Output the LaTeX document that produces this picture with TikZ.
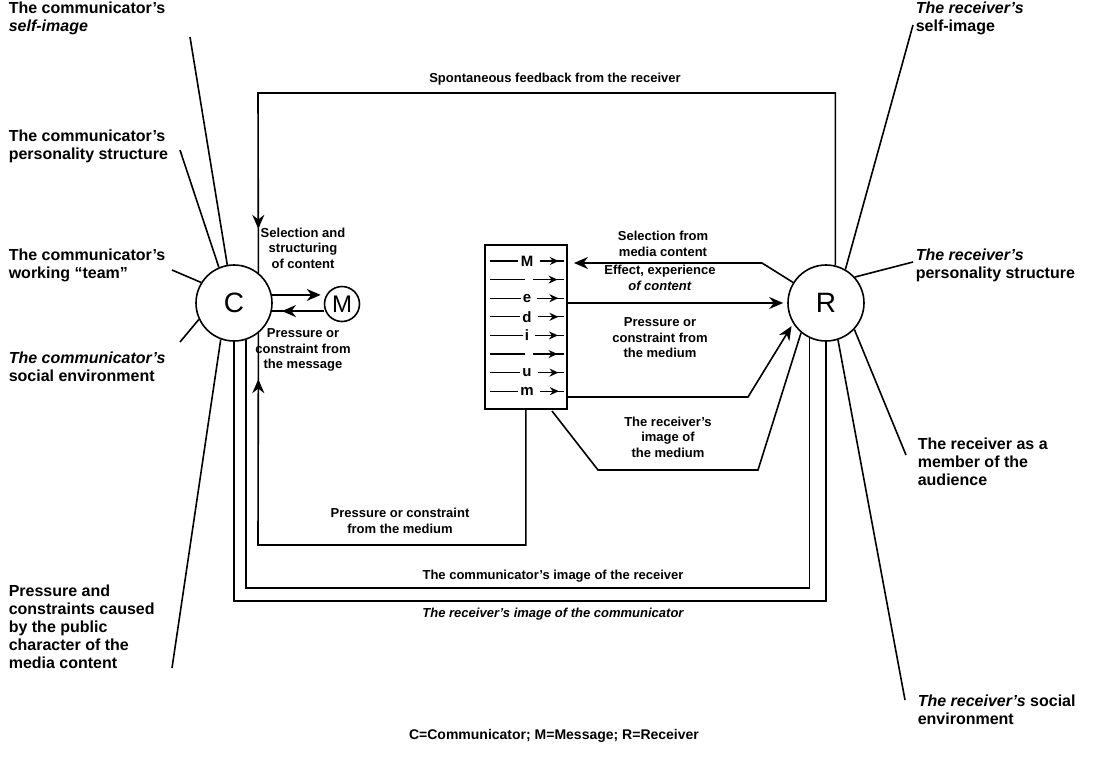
\documentclass[tikz,border=0pt]{standalone}
\usepackage{fontspec}
\setmainfont{Liberation Sans}
\usetikzlibrary{arrows.meta,decorations.markings,calc}
\begin{document}
\begin{tikzpicture}[x=1pt,y=-1pt,line width=1.6pt,
 outer/.style={font=\bfseries\fontsize{16}{18}\selectfont,align=left,inner sep=0pt,anchor=north west},
 inner/.style={font=\bfseries\fontsize{13}{15.5}\selectfont,align=center,inner sep=0pt},
 circ/.style={draw,circle,minimum size=76pt,inner sep=0pt,font=\fontsize{28}{28}\selectfont},
 tipd/.style={-{Stealth[length=14pt,width=12pt]}},
 arr/.style={postaction={decorate},decoration={markings,mark=at position #1 with {\arrow{Stealth[length=14pt,width=12pt]}}}},
 sarr/.style={postaction={decorate},decoration={markings,mark=at position #1 with {\arrow{Stealth[length=9pt,width=8pt]}}}},
]
\useasboundingbox (0,0) rectangle (1109,756);

% main nodes
\node[circ] (C) at (234,303) {C};
\node[circ,minimum size=35pt,font=\fontsize{24}{24}\selectfont] (M) at (342,304) {M};
\node[circ] (R) at (826,303) {R};
\node[draw,minimum width=82pt,minimum height=164pt,inner sep=0pt,anchor=north west] (med) at (484,244) {};

% medium rows
\foreach \i/\l in {1/M,2/,3/e,4/d,5/i,6/,7/u,8/m} {
  \pgfmathsetmacro\yy{244+17+(\i-1)*18.6}
  \node[font=\bfseries\fontsize{15}{15}\selectfont,inner sep=1.5pt] (ml\i) at (527,\yy) {\l};
  \draw[line width=1.3pt] ($(med.west |- ml\i)+(6,0)$) -- (ml\i.west);
  \draw[line width=1.3pt,sarr=0.8] ($(ml\i.east)+(4,0)$) -- ($(med.east |- ml\i)+(-4,0)$);
}

% outer labels
\node[outer] (lc1) at (8,1) {The communicator's\\\textit{self-image}};
\node[outer] (lc2) at (8,129) {The communicator's\\personality structure};
\node[outer] (lc3) at (8,248) {The communicator's\\working “team”};
\node[outer] (lc4) at (8,351) {\textit{The communicator's}\\social environment};
\node[outer] (lc5) at (8,584) {Pressure and\\constraints caused\\by the public\\character of the\\media content};
\node[outer] (lr1) at (915,1) {\textit{The receiver's}\\self-image};
\node[outer] (lr2) at (915,248) {\textit{The receiver's}\\personality structure};
\node[outer] (lr3) at (917,437) {The receiver as a\\member of the\\audience};
\node[outer] (lr4) at (917,694) {\textit{The receiver's} social\\environment};

% label lines
\coordinate (p1) at (190,37);
\coordinate (p2) at (180,150);
\coordinate (p3) at (172,270);
\coordinate (p4) at (180,342);
\coordinate (p5) at (172,668);
\coordinate (q1) at (913,25);
\coordinate (q2) at (913,262);
\coordinate (q3) at (906,455);
\coordinate (q4) at (905,700);
\draw (p1) -- (C.100);
\draw (p2) -- (C.113);
\draw (p3) -- (C.148);
\draw (p4) -- (C.205);
\draw (p5) -- (C.250);
\draw (q1) -- (R.60);
\draw (q2) -- (R.42);
\draw (q3) -- (R.-43);
\draw (q4) -- (R.-72);

% spontaneous feedback
\coordinate (fbL) at (258,93);
\draw[arr=-44pt] (R.76) |- (fbL) -- (C.51);
\node[inner] (fbl) at (555,79) {Spontaneous feedback from the receiver};

% C <-> M
\draw[tipd,shorten >=3pt] (C.12) -- (C.12 -| M.west);
\draw[arr=-10pt] (M.west |- C.-12) -- (C.-12);
\node[inner] (selC) at (303,248) {Selection and\\structuring\\of content};
\node[inner] (prM) at (303,350) {Pressure or\\constraint from\\the message};

% pressure from medium to C
\coordinate (pmL) at (258,545);
\draw[arr=-46pt] (med.south) |- (pmL) -- (C.-51);
\node[inner] (pml) at (400,521) {Pressure or constraint\\from the medium};

% communicator's image of receiver
\coordinate (ciB) at (520,588);
\draw (C.-72) |- (ciB) -| (R.-115);
\node[inner] (cil) at (553,576) {The communicator's image of the receiver};

% receiver's image of communicator
\coordinate (riB) at (520,601);
\draw (C.south) |- (riB) -| (R.south);
\node[inner] (ril) at (553,614) {\itshape The receiver's image of the communicator};

% selection from media content
\coordinate (s1) at (762,263);
\coordinate (s2) at (574,263);
\draw[tipd] (R.148) -- (s1) -- (s2);
\node[inner] (sell) at (663,244) {Selection from\\media content};

% effect
\draw[tipd,shorten >=4pt] (med.east |- R.west) -- (R.west);
\node[inner] (effl) at (660,278) {Effect, experience\\\textit{of content}};

% pressure from medium to R
\coordinate (pr1) at (748,397);
\draw[tipd,shorten >=3pt] (med.east |- pr1) -- (pr1) -- (R.212);
\node[inner] (prl) at (660,338) {Pressure or\\constraint from\\the medium};

% receiver's image of the medium
\coordinate (ri0) at (552,411);
\coordinate (ri1) at (598,470);
\coordinate (ri2) at (758,470);
\draw (ri0) -- (ri1) -- (ri2) -- (R.230);
\node[inner] (rml) at (668,437) {The receiver's\\image of\\the medium};

% legend
\node[font=\bfseries\fontsize{14}{14}\selectfont] (leg) at (554,736) {C=Communicator; M=Message; R=Receiver};
\end{tikzpicture}
\end{document}
